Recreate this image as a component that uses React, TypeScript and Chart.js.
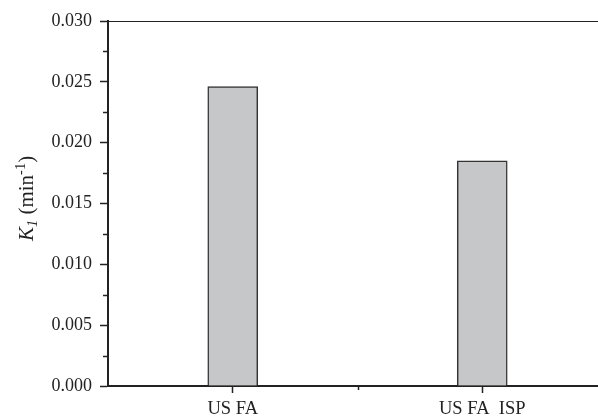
import React, { useEffect, useRef } from "react";
import { Chart, registerables } from "chart.js";

Chart.register(...registerables);

// Rate constants K1 for the two treatments
const categories = ["US FA", "US FA  ISP"];
const k1Values = [0.0246, 0.0185];

// Y axis range and major tick step
const yMin = 0;
const yMax = 0.03;
const yStep = 0.005;

const FONT = "'Liberation Serif', 'Times New Roman', serif";
const INK = "#222222";

// Draws minor ticks, the top frame line and the rich y-axis title
const decorPlugin = {
  id: "decor",
  afterDraw(chart: any) {
    const { ctx, chartArea, scales } = chart;
    const x = scales.x;
    const y = scales.y;
    ctx.save();
    ctx.strokeStyle = INK;
    ctx.lineWidth = 1.5;

    // minor ticks on the y axis, halfway between major ticks
    for (let v = yMin + yStep / 2; v < yMax; v += yStep) {
      const py = Math.round(y.getPixelForValue(v)) + 0.5;
      ctx.beginPath();
      ctx.moveTo(chartArea.left - 5, py);
      ctx.lineTo(chartArea.left, py);
      ctx.stroke();
    }

    // minor ticks on the x axis, between categories
    for (let i = 0; i < categories.length - 1; i++) {
      const px = Math.round((x.getPixelForValue(i) + x.getPixelForValue(i + 1)) / 2) + 0.5;
      ctx.beginPath();
      ctx.moveTo(px, chartArea.bottom);
      ctx.lineTo(px, chartArea.bottom + 4);
      ctx.stroke();
    }

    // top frame line
    ctx.lineWidth = 1.2;
    ctx.beginPath();
    ctx.moveTo(chartArea.left, chartArea.top + 0.5);
    ctx.lineTo(chartArea.right, chartArea.top + 0.5);
    ctx.stroke();

    // y axis title: K1 (min-1) with italic K, subscript 1 and superscript -1
    const size = 21;
    const small = 14.5;
    const parts = [
      { t: "K", font: `italic ${size}px ${FONT}`, dy: 0 },
      { t: "1", font: `italic ${small}px ${FONT}`, dy: 4 },
      { t: " (min", font: `${size}px ${FONT}`, dy: 0 },
      { t: "-1", font: `${small}px ${FONT}`, dy: -8 },
      { t: ")", font: `${size}px ${FONT}`, dy: 0 },
    ];
    let total = 0;
    parts.forEach((p) => {
      ctx.font = p.font;
      total += ctx.measureText(p.t).width;
    });
    const cy = (chartArea.top + chartArea.bottom) / 2 - 5;
    ctx.translate(33, cy);
    ctx.rotate(-Math.PI / 2);
    ctx.fillStyle = INK;
    ctx.textBaseline = "alphabetic";
    let cx = -total / 2;
    parts.forEach((p) => {
      ctx.font = p.font;
      ctx.fillText(p.t, cx, p.dy);
      cx += ctx.measureText(p.t).width;
    });
    ctx.restore();
  },
};

export default function App() {
  const canvasRef = useRef<HTMLCanvasElement | null>(null);

  useEffect(() => {
    const canvas = canvasRef.current;
    if (!canvas) return;
    const chart = new Chart(canvas, {
      type: "bar",
      data: {
        labels: categories,
        datasets: [
          {
            data: k1Values,
            backgroundColor: "#c6c7c9",
            borderColor: "#333333",
            borderWidth: 1.5,
            barThickness: 50,
          },
        ],
      },
      options: {
        animation: false,
        responsive: false,
        maintainAspectRatio: false,
        devicePixelRatio: 1,
        layout: { padding: { left: 0, right: 13, top: 21, bottom: 0 } },
        plugins: {
          legend: { display: false },
          tooltip: { enabled: false },
        },
        scales: {
          x: {
            offset: true,
            afterFit: (s: any) => {
              s.height = 30;
            },
            border: { display: true, color: INK, width: 2 },
            grid: {
              offset: false,
              drawOnChartArea: false,
              drawTicks: true,
              tickLength: 7,
              tickColor: INK,
              tickWidth: 1.5,
            },
            ticks: {
              color: INK,
              padding: 5,
              maxRotation: 0,
              font: { family: FONT, size: 18.5 },
            },
          },
          y: {
            min: yMin,
            max: yMax,
            afterFit: (s: any) => {
              s.width = 108;
            },
            border: { display: true, color: INK, width: 2 },
            grid: {
              drawOnChartArea: false,
              drawTicks: true,
              tickLength: 8,
              tickColor: INK,
              tickWidth: 1.5,
            },
            ticks: {
              stepSize: yStep,
              color: INK,
              padding: 8,
              font: { family: FONT, size: 18 },
              callback: (v: any) => Number(v).toFixed(3),
            },
          },
        },
      },
      plugins: [decorPlugin],
    });
    return () => chart.destroy();
  }, []);

  return (
    <div
      style={{
        position: "fixed",
        left: 0,
        top: 0,
        width: 598,
        height: 416,
        overflow: "hidden",
        background: "#ffffff",
      }}
    >
      <canvas ref={canvasRef} width={620} height={416} style={{ display: "block" }} />
    </div>
  );
}
